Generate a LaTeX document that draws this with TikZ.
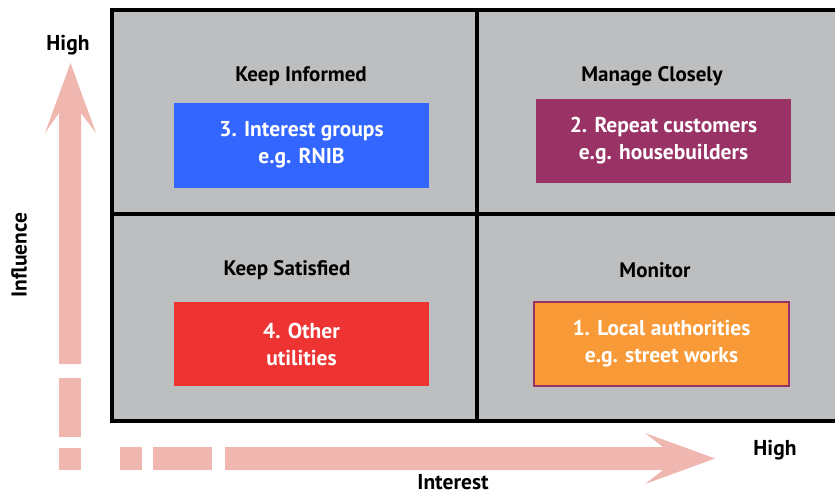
\documentclass[tikz,border=0pt]{standalone}
\usepackage{fontspec}
\setmainfont{PT Sans}
\usetikzlibrary{positioning}
\definecolor{gridgray}{RGB}{189,190,192}
\definecolor{axispink}{RGB}{240,183,176}
\definecolor{groupblue}{RGB}{51,102,255}
\definecolor{custpurple}{RGB}{153,51,102}
\definecolor{utilred}{RGB}{238,51,51}
\definecolor{authorange}{RGB}{249,154,56}

\begin{document}
\begin{tikzpicture}[x=1pt, y=-1pt]
  \tikzstyle{stake}=[text=white, font=\bfseries\fontsize{21.5}{27}\selectfont, align=center, minimum width=255pt, minimum height=85pt, inner sep=0pt]
  \tikzstyle{quad}=[font=\bfseries\fontsize{21}{24}\selectfont]
  \tikzstyle{axislabel}=[font=\bfseries\fontsize{21.5}{24}\selectfont]
  \useasboundingbox (0,0) rectangle (835,496);

  % the four quadrants
  \fill[gridgray] (112,10) rectangle (840,421);
  \draw[line width=4.5pt] (840,10) -- (112,10) -- (112,421) -- (840,421);
  \draw[line width=4pt] (477,10) -- (477,421);
  \draw[line width=4pt] (112,214) -- (840,214);

  \node[quad] (inform) at (301,76) {Keep Informed};
  \node[quad] (manage) at (652,76) {Manage Closely};
  \node[quad] (satisfy) at (287,270) {Keep Satisfied};
  \node[quad] (monitor) at (655,270) {Monitor};

  \node[stake, fill=groupblue] (groups) at (301.5,145) {3. Interest groups\\e.g. RNIB};
  \node[stake, fill=custpurple, minimum height=84pt] (customers) at (663.5,141) {2. Repeat customers\\e.g. housebuilders};
  \node[stake, fill=utilred, minimum height=84pt] (utilities) at (301.5,344) {4. Other\\utilities};
  \node[stake, fill=authorange, draw=custpurple, line width=2pt, minimum width=255pt, minimum height=84pt] (authorities) at (661.5,344) {1. Local authorities\\e.g. street works};

  % influence axis
  \fill[axispink] (59,364) -- (59,113) -- (45,133) -- (70.5,63) -- (96,133) -- (81,113) -- (81,364) -- cycle;
  \fill[axispink] (59,378) rectangle (81,437);
  \fill[axispink] (59,448) rectangle (81,470);
  \node[axislabel] (inflhigh) at (68,45) {High};
  \node[axislabel, rotate=90] (influence) at (19,255) {Influence};

  % interest axis
  \fill[axispink] (225,447) -- (663,447) -- (645,433) -- (715,458.5) -- (645,484) -- (663,470) -- (225,470) -- cycle;
  \fill[axispink] (120,447) rectangle (142,470);
  \fill[axispink] (153,447) rectangle (212,470);
  \node[axislabel] (inthigh) at (775,450) {High};
  \node[axislabel] (interest) at (453,482) {Interest};
\end{tikzpicture}
\end{document}
